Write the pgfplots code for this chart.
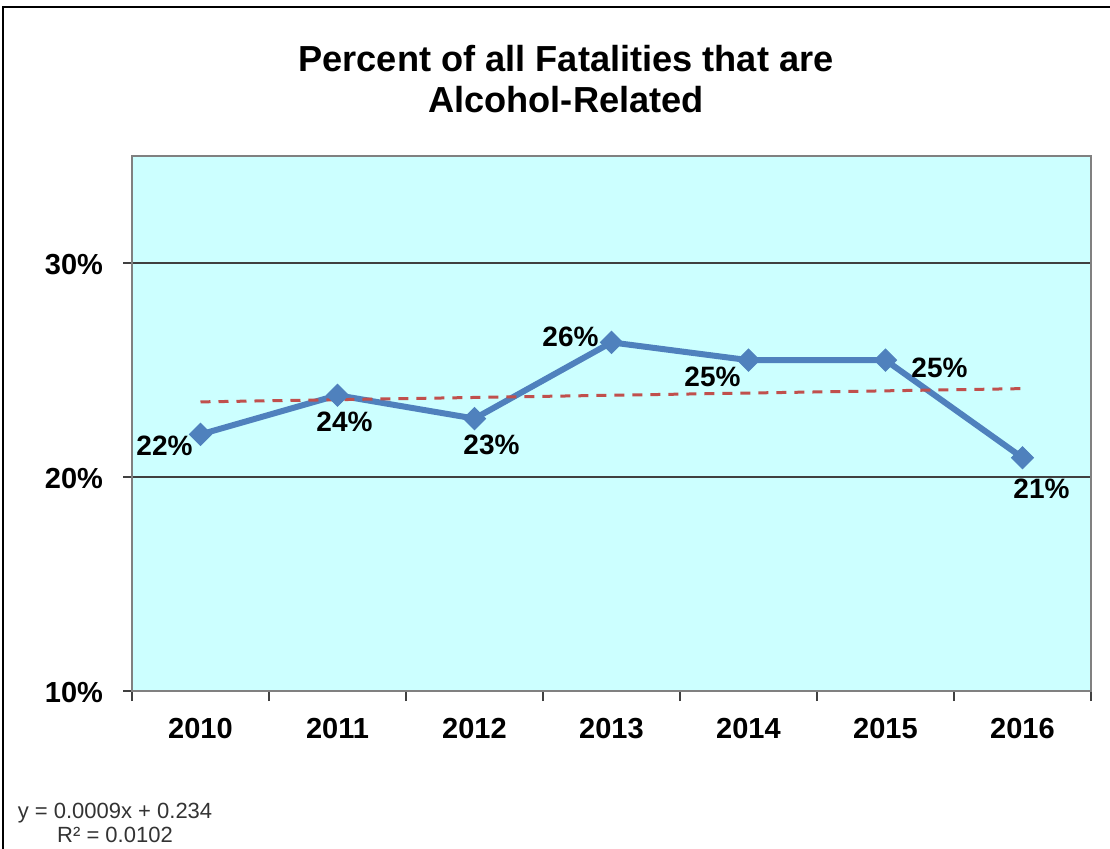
\documentclass[border=0pt]{standalone}
\usepackage{pgfplots}
\pgfplotsset{compat=1.18}
\usepackage{pgfplotstable}
\usepackage{fontspec}
\setmainfont{Liberation Sans}
\definecolor{plotbg}{HTML}{CCFFFF}
\definecolor{serblue}{HTML}{4F81BD}
\definecolor{trendred}{HTML}{C0504D}
\pgfplotstableread{
x y dx dy
0 21.99 -18 -5.5
1 23.82 3.5 -13.5
2 22.73 8.5 -13
3 26.29 -20.5 3
4 25.46 -18 -8.5
5 25.46 27 -4
6 20.90 9.5 -15.5
}\datatable
\pgfplotstableread{
x y
0 23.51
6 24.13
}\trendtable
\begin{document}
\begin{tikzpicture}
\useasboundingbox (0,0) rectangle (555pt,424pt);
\draw[line width=1pt] (1.5pt,-5pt) -- (1.5pt,420.5pt) -- (560pt,420.5pt);
\begin{axis}[
  at={(66pt,78.5pt)}, anchor=south west,
  scale only axis, width=479.5pt, height=267.5pt,
  xmin=-0.5, xmax=6.5, ymin=10, ymax=35,
  xtick={0,...,6}, xticklabels={2010,2011,2012,2013,2014,2015,2016},
  minor xtick={-0.5,0.5,...,6.5},
  ytick={10,20,30}, yticklabels={10\%,20\%,30\%},
  xtick pos=bottom, ytick pos=left,
  tick align=outside,
  major tick length=4.5pt, minor tick length=5pt,
  major x tick style={draw=none},
  minor x tick style={black!75, line width=0.8pt},
  major y tick style={black!75, line width=0.8pt},
  axis background/.style={fill=plotbg},
  axis line style={draw=black!50, line width=1pt},
  ymajorgrids, grid style={black!75, line width=0.6pt},
  tick label style={font=\bfseries\fontsize{14.5}{16}\selectfont},
  /pgf/number format/assume math mode=true,
  xticklabel style={anchor=north, yshift=-5.5pt},
  yticklabel style={anchor=east, xshift=-6.5pt, yshift=-1pt},
  clip=false,
]
\addplot[serblue, line width=3pt, mark=square*, mark size=3.9pt,
  mark options={rotate=45, fill=serblue, draw=serblue, line width=0.5pt},
  point meta=y,
  nodes near coords={\pgfmathprintnumber[fixed,precision=0]{\pgfplotspointmeta}\%},
  visualization depends on={\thisrow{dx} \as \dx},
  visualization depends on={\thisrow{dy} \as \dy},
  nodes near coords style={anchor=center, xshift=\dx pt, yshift=\dy pt,
    font=\bfseries\fontsize{14}{16}\selectfont, text=black}]
  table[x=x,y=y] {\datatable};
\addplot[trendred, line width=1.5pt, dash pattern=on 5pt off 4pt] table[x=x,y=y] {\trendtable};
\end{axis}
\node[anchor=base, font=\bfseries\fontsize{18.1}{20}\selectfont] at (283pt,388pt) {Percent of all Fatalities that are};
\node[anchor=base, font=\bfseries\fontsize{18.1}{20}\selectfont] at (283pt,367.5pt) {Alcohol-Related};
\node[anchor=base, font=\fontsize{11}{12}\selectfont, text=black!80] at (57.5pt,15pt) {y = 0.0009x + 0.234};
\node[anchor=base, font=\fontsize{11}{12}\selectfont, text=black!80] at (57.5pt,3pt) {R² = 0.0102};
\end{tikzpicture}
\end{document}
